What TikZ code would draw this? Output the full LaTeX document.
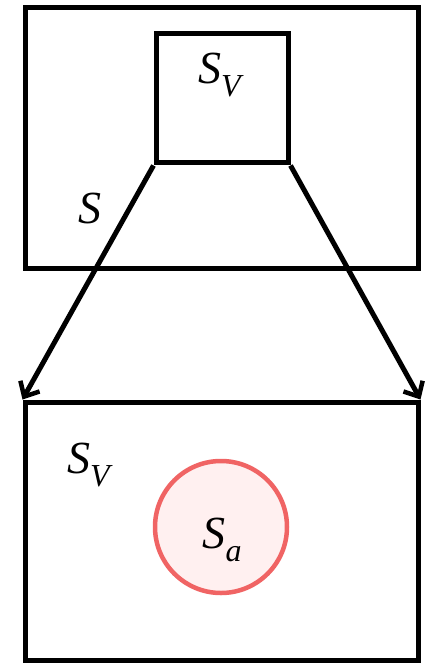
\documentclass[tikz,border=0pt]{standalone}
\usepackage{fontspec}
\setmainfont{Liberation Serif}
\usetikzlibrary{arrows.meta}
\definecolor{ringred}{RGB}{240,100,100}
\definecolor{ringfill}{RGB}{255,240,240}
\newcommand{\symb}[2]{\textit{#1}\raisebox{-0.28em}{\fontsize{32}{35}\selectfont\textit{#2}}}
\begin{document}
\begin{tikzpicture}[x=1pt,y=-1pt,
  box/.style={draw=black,line width=5pt,inner sep=0pt,fill=none},
  lbl/.style={font=\fontsize{46}{52}\selectfont,inner sep=0pt},
  zoomarrow/.style={line width=5pt,-{Straight Barb[length=12pt,width=22pt,line width=4.5pt]}}]
\useasboundingbox (0,0) rectangle (427,663);
\node[box,minimum width=393pt,minimum height=260pt] (top) at (221.5,138) {};
\node[box,minimum width=132pt,minimum height=129pt] (sv) at (222,98.5) {};
\node[box,minimum width=393pt,minimum height=258pt] (bot) at (221.5,531) {};
\node[draw=ringred,fill=ringfill,line width=4.5pt,circle,minimum size=132pt,inner sep=0pt] (sa) at (221,527) {};
\node[lbl] (lsv) at (221,75) {\symb{S}{V}};
\node[lbl] (ls) at (90,208) {\textit{S}};
\node[lbl] (lsv2) at (90,465) {\symb{S}{V}};
\node[lbl] (lsa) at (222,540) {\symb{S}{a}};
\draw[zoomarrow] (sv.south west) -- (bot.north west);
\draw[zoomarrow] (sv.south east) -- (bot.north east);
\end{tikzpicture}
\end{document}
